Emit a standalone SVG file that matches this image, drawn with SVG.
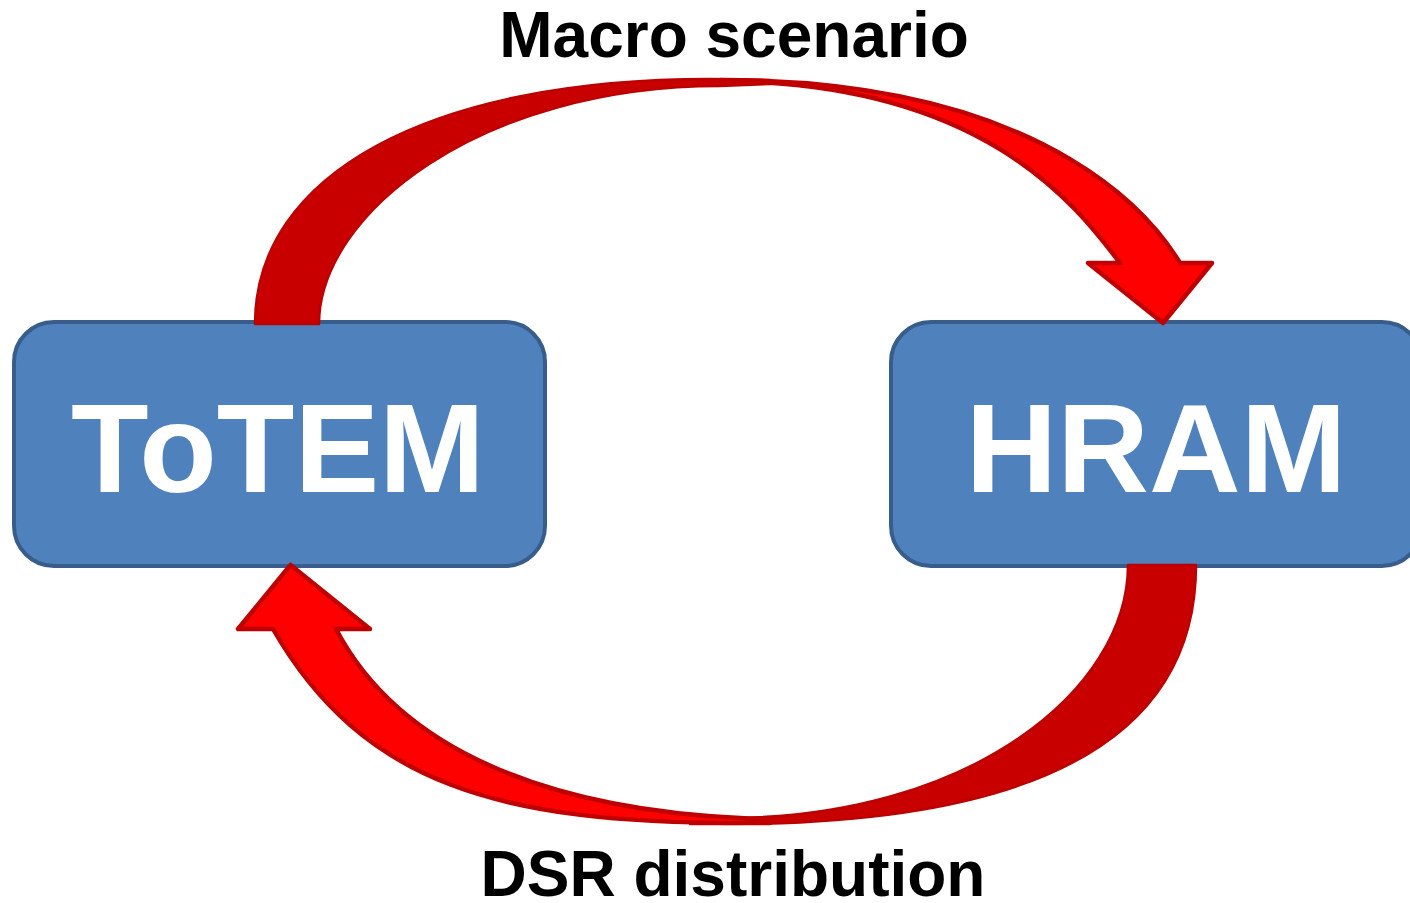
<svg xmlns="http://www.w3.org/2000/svg" width="1410" height="903" viewBox="0 0 1410 903">
<style>
.box{fill:#4F81BD;stroke:#385D8A;stroke-width:4}
.boxlabel{font-family:"Liberation Sans",Arial,sans-serif;font-weight:bold;font-size:127px;fill:#FFFFFF;text-anchor:middle}
.label{font-family:"Liberation Sans",Arial,sans-serif;font-weight:bold;font-size:64px;fill:#000000;text-anchor:middle}
.back{fill:#C80000;stroke:#BC0000;stroke-width:2.5;stroke-linejoin:round}
.front{fill:#FF0000;stroke:#C00000;stroke-width:4.5;stroke-linejoin:round}
</style>
<rect width="1410" height="903" fill="#FFFFFF"/>
<g id="node-totem">
<rect class="box" x="14" y="322" width="531" height="244" rx="40" ry="40"/>
<text class="boxlabel" x="278" y="492">ToTEM</text>
</g>
<g id="node-hram">
<rect class="box" x="891" y="322" width="531" height="244" rx="40" ry="40"/>
<text class="boxlabel" x="1156" y="492">HRAM</text>
</g>
<g id="connectors">
<g id="arrow-macro">
<path class="back" d="M255,324 C255,174 430,79 710,79 C735,79 755,80 770,80 L770,84 L720,86 C480,86 319,214 319,324 Z"/>
<path class="front" d="M720,80 C1060,80 1160,230 1180,263 L1212,263 L1163,323 L1088,263 L1120,263 C1073,201 980,82 720,81 Z"/>
</g>
<g id="arrow-dsr">
<path class="back" d="M1196,565 C1196,755 1007,824 727,824 L690,824 L690,820 L727,818 C970,818 1128,690 1128,565 Z"/>
<path class="front" d="M273,629 C363,785 500,823 740,823 L770,823 L770,820 L740,818 C570,810 405,761 336,629 L370,629 L290.5,565 L238,629 Z"/>
</g>
</g>
<g id="label-macro">
<text class="label" x="734" y="57">Macro scenario</text>
</g>
<g id="label-dsr">
<text class="label" x="733" y="896">DSR distribution</text>
</g>
</svg>
